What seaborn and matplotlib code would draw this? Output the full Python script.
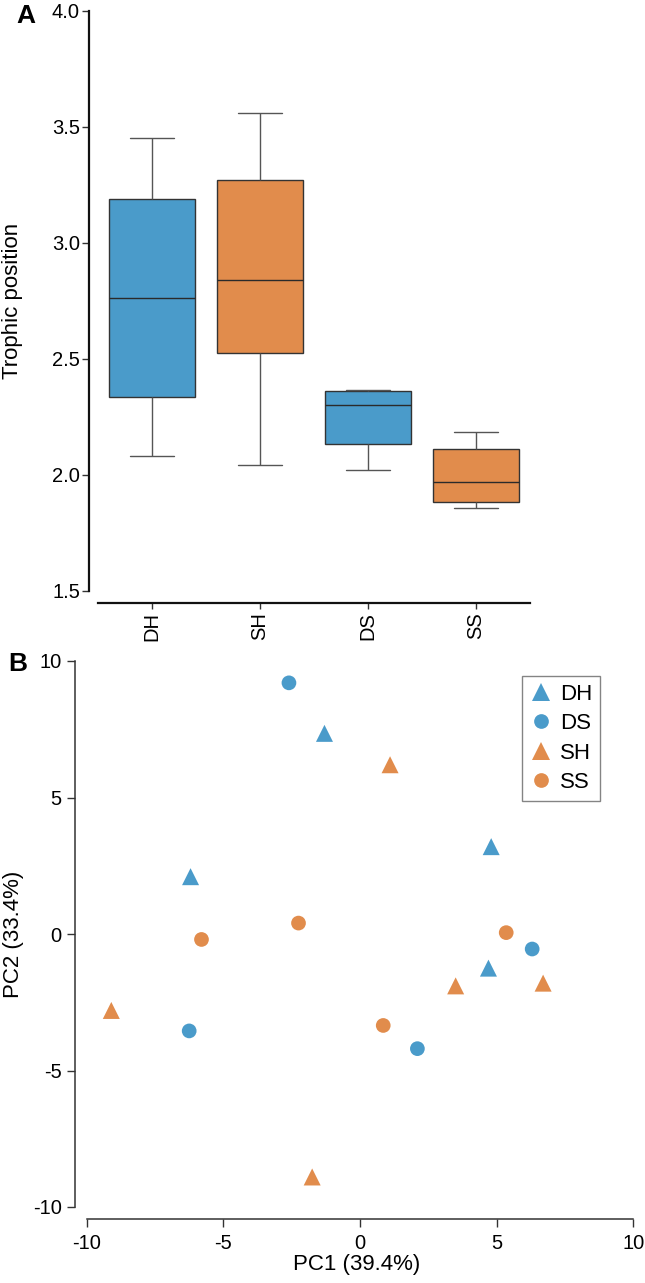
import numpy as np
import pandas as pd
import matplotlib
matplotlib.use("Agg")
import matplotlib.pyplot as plt
import seaborn as sns

# ---------------- Panel A data (trophic position box plots) ----------------
tp_groups = ["DH", "SH", "DS", "SS"]
tp_DH = [2.08, 2.335, 2.76, 3.19, 3.45]
tp_SH = [2.04, 2.522, 2.84, 3.27, 3.56]
tp_DS = [2.021, 2.133, 2.30, 2.359, 2.363]
tp_SS = [1.857, 1.88, 1.969, 2.11, 2.182]
tp_ticks = [1.5, 2.0, 2.5, 3.0, 3.5, 4.0]

# ---------------- Panel B data (PCA scatter) ----------------
pca_groups = ["DH", "DS", "SH", "SS"]
pc1_DH = [-6.2, -1.3, 4.8, 4.7]
pc2_DH = [2.1, 7.35, 3.2, -1.25]
pc1_DS = [-2.6, 6.3, -6.25, 2.1]
pc2_DS = [9.2, -0.55, -3.55, -4.2]
pc1_SH = [1.1, 3.5, 6.7, -9.1, -1.75]
pc2_SH = [6.2, -1.9, -1.8, -2.8, -8.9]
pc1_SS = [-5.8, -2.25, 5.35, 0.85]
pc2_SS = [-0.2, 0.4, 0.05, -3.35]
pc_ticks = [-10, -5, 0, 5, 10]

BLUE = "#4A9BCA"
ORANGE = "#E18C4C"
palette = {"DH": BLUE, "DS": BLUE, "SH": ORANGE, "SS": ORANGE}

sns.set_style("ticks")
plt.rcParams["font.family"] = ["Liberation Sans", "DejaVu Sans"]
plt.rcParams["axes.unicode_minus"] = False
plt.rcParams["text.color"] = "black"
plt.rcParams["axes.labelcolor"] = "black"
plt.rcParams["xtick.labelcolor"] = "black"
plt.rcParams["ytick.labelcolor"] = "black"

W, H = 645, 1283
fig = plt.figure(figsize=(W / 100, H / 100), dpi=100)

def px_axes(x0, y0, x1, y1):
    return fig.add_axes([x0 / W, 1 - y1 / H, (x1 - x0) / W, (y1 - y0) / H])

PX2PT = 72 / 100

# ---------------- Panel A ----------------
axA = px_axes(98, 10.7, 530, 590.5)
dfA = pd.DataFrame({
    "group": np.repeat(tp_groups, 5),
    "tp": tp_DH + tp_SH + tp_DS + tp_SS,
})
sns.boxplot(data=dfA, x="group", y="tp", hue="group", order=tp_groups,
            hue_order=tp_groups, palette=palette, saturation=1, width=0.8,
            whis=(0, 100), linecolor="#333333", linewidth=1.0, legend=False,
            whiskerprops=dict(color="#555555"), capprops=dict(color="#555555"),
            medianprops=dict(color="#2a2a2a"), ax=axA)
axA.set_xlim(-0.5, 3.5)
axA.set_ylim(1.5, 4.0)
axA.set_yticks(tp_ticks)
axA.set_yticklabels([f"{t:.1f}" for t in tp_ticks])
axA.set_xlabel("")
axA.set_ylabel("Trophic position", fontsize=16, color="black")
axA.yaxis.label.set(rotation_mode="default", ha="left", va="center")
axA.yaxis.set_label_coords(2 / W, 1 - 300.6 / H, transform=fig.transFigure)
sns.despine(ax=axA)
axA.spines["left"].set_position(("outward", 9 * PX2PT))
axA.spines["bottom"].set_position(("outward", 12 * PX2PT))
for s in ("left", "bottom"):
    axA.spines[s].set_linewidth(1.6)
    axA.spines[s].set_color("#111111")
axA.tick_params(axis="y", length=5, width=1.0, pad=1.5, labelsize=14.5, color="#333333",
                labelcolor="black")
axA.tick_params(axis="x", length=4, width=1.0, pad=3, labelsize=14.5, color="#333333",
                labelrotation=90, labelcolor="black")

# ---------------- Panel B ----------------
axB = px_axes(86.7, 661, 633.3, 1207)
dfB = pd.DataFrame({
    "group": ["DH"] * len(pc1_DH) + ["DS"] * len(pc1_DS) + ["SH"] * len(pc1_SH) + ["SS"] * len(pc1_SS),
    "PC1": pc1_DH + pc1_DS + pc1_SH + pc1_SS,
    "PC2": pc2_DH + pc2_DS + pc2_SH + pc2_SS,
})
markers = {"DH": "^", "DS": "o", "SH": "^", "SS": "o"}
sizes = {"DH": 150, "SH": 150, "DS": 112, "SS": 112}
sns.scatterplot(data=dfB, x="PC1", y="PC2", hue="group", style="group", size="group",
                hue_order=pca_groups, style_order=pca_groups, size_order=pca_groups,
                palette=palette, markers=markers, sizes=sizes, linewidth=0,
                legend="full", ax=axB)
old = axB.get_legend()
handles = old.legend_handles
labels = [t.get_text() for t in old.texts]
old.remove()
leg = axB.legend(handles, labels, loc="upper right",
                 bbox_to_anchor=(600 / W, 1 - 676 / H), bbox_transform=fig.transFigure,
                 borderaxespad=0, fontsize=16, frameon=True, fancybox=False,
                 handlelength=1.0, handletextpad=0.35, labelspacing=0.38,
                 borderpad=0.35)
leg.get_frame().set_edgecolor("#666666")
leg.get_frame().set_linewidth(1.0)
for t in leg.get_texts():
    t.set_color("black")

axB.set_xlim(-10, 10)
axB.set_ylim(-10, 10)
axB.set_xticks(pc_ticks)
axB.set_yticks(pc_ticks)
axB.set_xticklabels([str(t) for t in pc_ticks])
axB.set_yticklabels([str(t) for t in pc_ticks])
axB.set_xlabel("PC1 (39.4%)", fontsize=16, color="black")
axB.set_ylabel("PC2 (33.4%)", fontsize=16, color="black")
axB.xaxis.set_label_coords(357 / W, 1 - 1254 / H, transform=fig.transFigure)
axB.yaxis.label.set(rotation_mode="default", ha="left", va="center")
axB.yaxis.set_label_coords(3 / W, 1 - 934 / H, transform=fig.transFigure)
sns.despine(ax=axB)
axB.spines["left"].set_position(("outward", 11.7 * PX2PT))
axB.spines["bottom"].set_position(("outward", 12 * PX2PT))
for s in ("left", "bottom"):
    axB.spines[s].set_linewidth(1.1)
    axB.spines[s].set_color("#333333")
axB.tick_params(axis="both", length=6, width=1.0, labelsize=14.5, color="#333333",
                labelcolor="black")
axB.tick_params(axis="y", pad=3.5)
axB.tick_params(axis="x", pad=5)

# panel letters
fig.text(16 / W, 1 - 23 / H, "A", fontsize=19, fontweight="bold", ha="left", va="baseline",
         color="black")
fig.text(8 / W, 1 - 671 / H, "B", fontsize=19, fontweight="bold", ha="left", va="baseline",
         color="black")

fig.savefig("out.png", dpi=100)
